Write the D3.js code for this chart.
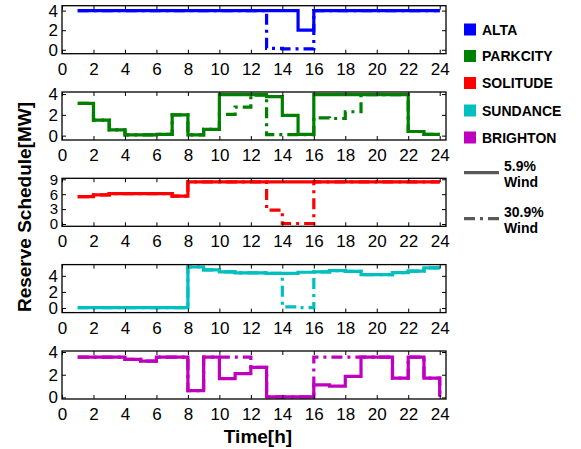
<!DOCTYPE html>
<html>
<head>
<meta charset="utf-8">
<script src="https://cdn.jsdelivr.net/npm/d3@7"></script>
<style>
  html, body { margin: 0; padding: 0; background: #fff; }
  svg { display: block; font-family: "Liberation Sans", Arial, sans-serif; }
</style>
</head>
<body>
<svg id="chart" width="581" height="449"></svg>
<script>
// Hourly reserve schedule (MW) for five plants under two wind penetration levels
const hours = [1, 2, 3, 4, 5, 6, 7, 8, 9, 10, 11, 12, 13, 14, 15, 16, 17, 18, 19, 20, 21, 22, 23, 24];
const plants = ["ALTA", "PARKCITY", "SOLITUDE", "SUNDANCE", "BRIGHTON"];
const plantColors = ["#0000ff", "#008000", "#ff0000", "#00bfbf", "#bf00bf"];
const windLevels = ["5.9%", "30.9%"];

const altaLow   = [4, 4, 4, 4, 4, 4, 4, 4, 4, 4, 4, 4, 4, 4, 2, 4, 4, 4, 4, 4, 4, 4, 4, 4];
const altaHigh  = [4, 4, 4, 4, 4, 4, 4, 4, 4, 4, 4, 4, 0.15, 0.1, 0.1, 4, 4, 4, 4, 4, 4, 4, 4, 4];

const parkLow   = [3.1, 1.5, 0.55, 0.08, 0.08, 0.12, 2.0, 0.08, 0.6, 3.95, 3.95, 3.95, 3.75, 1.95, 0.12, 3.95, 3.95, 3.95, 3.95, 3.95, 3.95, 0.4, 0.12, 0.12];
const parkHigh  = [3.1, 1.5, 0.55, 0.08, 0.08, 0.12, 2.0, 0.08, 0.6, 2.05, 2.75, 3.9, 0.1, 0.1, 0.1, 1.7, 1.65, 2.3, 3.95, 3.95, 3.95, 0.4, 0.12, 0.12];

const soliLow   = [5.5, 5.85, 6.1, 6.1, 6.1, 6.1, 5.6, 8.5, 8.5, 8.5, 8.5, 8.5, 8.5, 8.5, 8.5, 8.5, 8.5, 8.5, 8.5, 8.5, 8.5, 8.5, 8.5, 8.5];
const soliHigh  = [5.5, 5.85, 6.1, 6.1, 6.1, 6.1, 5.6, 8.5, 8.5, 8.5, 8.5, 8.5, 2.8, 0.1, 0.1, 8.5, 8.5, 8.5, 8.5, 8.5, 8.5, 8.5, 8.5, 8.5];

const sundLow   = [0.05, 0.05, 0.05, 0.05, 0.05, 0.05, 0.05, 5.1, 4.75, 4.5, 4.37, 4.37, 4.3, 4.3, 4.45, 4.5, 4.65, 4.55, 4.15, 4.15, 4.4, 4.6, 5.0, 5.0];
const sundHigh  = [0.05, 0.05, 0.05, 0.05, 0.05, 0.05, 0.05, 5.1, 4.75, 4.5, 4.37, 4.37, 4.3, 0.15, 0.05, 4.5, 4.65, 4.55, 4.15, 4.15, 4.4, 4.6, 5.0, 5.0];

const brigLow   = [3.55, 3.55, 3.55, 3.35, 3.2, 3.55, 3.55, 0.6, 3.55, 1.65, 2.1, 2.65, 0.05, 0.05, 0.05, 1.1, 1.0, 1.85, 3.55, 3.55, 1.7, 3.55, 1.7, 0.05];
const brigHigh  = [3.55, 3.55, 3.55, 3.35, 3.2, 3.55, 3.55, 0.6, 3.55, 3.55, 3.55, 2.65, 0.05, 0.05, 0.05, 3.55, 3.55, 3.55, 3.55, 3.55, 1.7, 3.55, 1.7, 0.05];

const lowWindSeries  = [altaLow, parkLow, soliLow, sundLow, brigLow];
const highWindSeries = [altaHigh, parkHigh, soliHigh, sundHigh, brigHigh];

const xTicks = [0, 2, 4, 6, 8, 10, 12, 14, 16, 18, 20, 22, 24];
const yTickSets = [[0, 2, 4], [0, 2, 4], [0, 3, 6, 9], [0, 2, 4], [0, 2, 4]];
const yDomains = [[-0.4, 4.5], [-0.42, 4.2], [-0.46, 9.2], [-0.57, 5.4], [-0.14, 4.09]];

// ---- layout ----
const plotLeft = 62, plotRight = 446;
const panelTops = [5.7, 92, 178.3, 264.6, 351];
const panelH = 48;
const tickLen = 4;
const dashPattern = "11,5,3,5";
const intFmt = d3.format("d");

const svg = d3.select("#chart");
svg.append("rect").attr("width", 581).attr("height", 449).attr("fill", "#fff");

const x = d3.scaleLinear().domain([0, 24.4]).range([plotLeft, plotRight]);

plants.forEach((name, i) => {
  const top = panelTops[i], bottom = top + panelH;
  const y = d3.scaleLinear().domain(yDomains[i]).range([bottom, top]);
  const g = svg.append("g");

  const line = d3.line()
    .x((d, k) => x(hours[k]))
    .y(d => y(d))
    .curve(d3.curveStepAfter);

  // solid: 5.9% wind, dash-dot: 30.9% wind
  g.append("path")
    .datum(lowWindSeries[i])
    .attr("d", line)
    .attr("fill", "none")
    .attr("stroke", plantColors[i])
    .attr("stroke-width", 3.2);

  g.append("path")
    .datum(highWindSeries[i])
    .attr("d", line)
    .attr("fill", "none")
    .attr("stroke", plantColors[i])
    .attr("stroke-width", 3.2)
    .attr("stroke-dasharray", dashPattern);

  // frame
  g.append("rect")
    .attr("x", plotLeft).attr("y", top)
    .attr("width", plotRight - plotLeft).attr("height", panelH)
    .attr("fill", "none").attr("stroke", "#000").attr("stroke-width", 1.3);

  // x ticks (inward, bottom and top)
  const xb = g.append("g").attr("transform", `translate(0,${bottom})`)
    .call(d3.axisBottom(x).tickValues(xTicks).tickFormat(intFmt).tickSizeInner(-tickLen).tickSizeOuter(0).tickPadding(9));
  const xt = g.append("g").attr("transform", `translate(0,${top})`)
    .call(d3.axisTop(x).tickValues(xTicks).tickSizeInner(-tickLen).tickSizeOuter(0).tickFormat(""));
  // y ticks (inward, left and right)
  const yl = g.append("g").attr("transform", `translate(${plotLeft},0)`)
    .call(d3.axisLeft(y).tickValues(yTickSets[i]).tickFormat(intFmt).tickSizeInner(-tickLen).tickSizeOuter(0).tickPadding(4));
  const yr = g.append("g").attr("transform", `translate(${plotRight},0)`)
    .call(d3.axisRight(y).tickValues(yTickSets[i]).tickSizeInner(-tickLen).tickSizeOuter(0).tickFormat(""));

  [xb, xt, yl, yr].forEach(a => {
    a.select(".domain").remove();
    a.selectAll("line").attr("stroke", "#000").attr("stroke-width", 1);
    a.selectAll("text")
      .attr("font-family", "'Liberation Sans', Arial, sans-serif")
      .attr("font-size", 17).attr("fill", "#000");
  });
  // the 0–9 scale has tightly packed labels; keep them a touch smaller
  if (yTickSets[i].length > 3) yl.selectAll("text").attr("font-size", 15);
});

// axis titles
svg.append("text")
  .attr("x", 258).attr("y", 443)
  .attr("text-anchor", "middle")
  .attr("font-size", 19).attr("font-weight", "bold")
  .text("Time[h]");

svg.append("text")
  .attr("transform", "translate(31,207) rotate(-90)")
  .attr("text-anchor", "middle")
  .attr("font-size", 19).attr("font-weight", "bold")
  .text("Reserve Schedule[MW]");

// legend: plants
const legendRowY = [29.5, 56, 83, 110.5, 137.5];
const leg = svg.append("g");
plants.forEach((name, i) => {
  leg.append("rect")
    .attr("x", 464).attr("y", legendRowY[i] - 6)
    .attr("width", 12).attr("height", 12)
    .attr("fill", plantColors[i]);
  leg.append("text")
    .attr("x", 482).attr("y", legendRowY[i] + 5)
    .attr("font-size", 14).attr("font-weight", "bold")
    .text(name);
});

// legend: wind levels
const windLineY = [172.7, 218.7];
windLevels.forEach((lvl, k) => {
  leg.append("line")
    .attr("x1", 464).attr("x2", 499)
    .attr("y1", windLineY[k]).attr("y2", windLineY[k])
    .attr("stroke", "#595959").attr("stroke-width", 3.2)
    .attr("stroke-dasharray", k === 1 ? dashPattern : null);
  const t = leg.append("text")
    .attr("x", 504).attr("y", windLineY[k] - 2)
    .attr("font-size", 14).attr("font-weight", "bold");
  t.append("tspan").attr("x", 504).text(lvl);
  t.append("tspan").attr("x", 504).attr("dy", 16.5).text("Wind");
});
</script>
</body>
</html>
